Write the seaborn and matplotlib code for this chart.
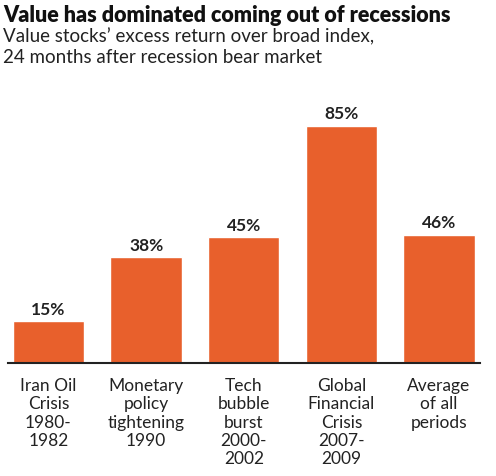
import matplotlib
matplotlib.use("Agg")
import matplotlib.pyplot as plt
import seaborn as sns
import pandas as pd

categories = ["Iran Oil\nCrisis\n1980-\n1982",
              "Monetary\npolicy\ntightening\n1990",
              "Tech\nbubble\nburst\n2000-\n2002",
              "Global\nFinancial\nCrisis\n2007-\n2009",
              "Average\nof all\nperiods"]
values = [15, 38, 45, 85, 46]

df = pd.DataFrame({"period": categories, "excess": values})

sns.set_style("white")
plt.rcParams['font.family'] = ['Lato', 'DejaVu Sans']

fig = plt.figure(figsize=(4.96, 4.77), dpi=100)
ax = fig.add_axes([0.0161, 0.2369, 0.9516, 0.5556])

sns.barplot(data=df, x="period", y="excess", color="#E8602C", saturation=1,
            width=0.73, ax=ax)

for i, v in enumerate(values):
    ax.text(i, v + 1.6, f"{v}%", ha="center", va="bottom", fontsize=12.5,
            fontweight="bold", color="#222222")

ax.set_xlim(-0.415, 4.42)
ax.set_ylim(0, 95)
ax.set_xlabel("")
ax.set_ylabel("")
ax.set_yticks([])
ax.tick_params(axis="x", length=0, pad=10, labelsize=12.5, colors="#222222")
for lab in ax.get_xticklabels():
    lab.set_linespacing(1.18)
for s in ["top", "right", "left"]:
    ax.spines[s].set_visible(False)
ax.spines["bottom"].set_color("#222222")
ax.spines["bottom"].set_linewidth(1.5)

fig.text(0.006, 0.99, "Value has dominated coming out of recessions",
         fontsize=15.5, fontweight="heavy", color="#111111", va="top")
fig.text(0.006, 0.942, "Value stocks\u2019 excess return over broad index,\n24 months after recession bear market",
         fontsize=13.5, color="#222222", va="top", linespacing=1.3)

fig.savefig("out.png", dpi=100)
